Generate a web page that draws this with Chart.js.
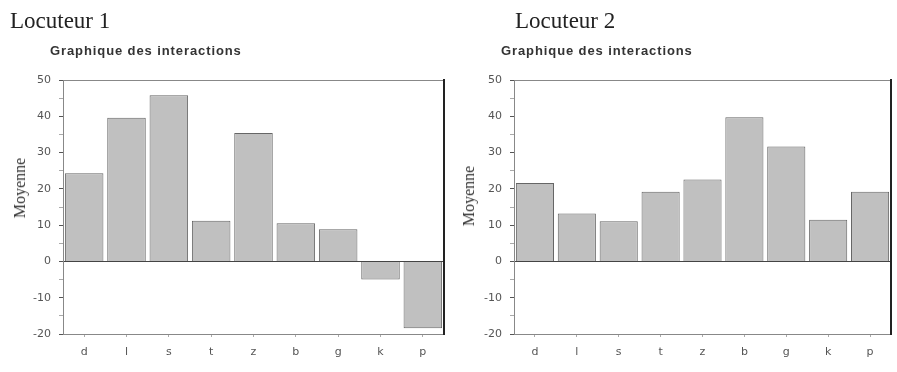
<!DOCTYPE html>
<html>
<head>
<meta charset="utf-8">
<script src="https://cdn.jsdelivr.net/npm/chart.js@4.4.0/dist/chart.umd.min.js"></script>
<style>
	body { margin: 0; background: #fff; }
	.wrap { position: relative; width: 897px; height: 372px; overflow: hidden; }
	.box { position: absolute; top: 0; height: 372px; }
	.titre { position: absolute; font-family: "Liberation Serif", serif; font-size: 23px; color: #222; white-space: nowrap; }
	.sousTitre { position: absolute; font-family: "Liberation Sans", Arial, sans-serif; font-weight: bold; font-size: 13px; letter-spacing: 0.9px; color: #333; white-space: nowrap; }
	.axeY { position: absolute; font-family: "Liberation Serif", serif; font-size: 16px; color: #333; white-space: nowrap; transform: translate(-50%, -50%) rotate(-90deg); }
</style>
</head>
<body>
<div class="wrap">
	<div class="box" style="left:0;width:447px"><canvas id="chart1"></canvas></div>
	<div class="box" style="left:447px;width:450px"><canvas id="chart2"></canvas></div>

	<div class="titre" style="left:10px;top:8px">Locuteur 1</div>
	<div class="sousTitre" style="left:50px;top:43px">Graphique des interactions</div>
	<div class="axeY" style="left:20px;top:188px">Moyenne</div>

	<div class="titre" style="left:515px;top:8px">Locuteur 2</div>
	<div class="sousTitre" style="left:501px;top:43px">Graphique des interactions</div>
	<div class="axeY" style="left:469px;top:196px">Moyenne</div>
</div>
<script>
'use strict'

//catégories
const labels = ['d', 'l', 's', 't', 'z', 'b', 'g', 'k', 'p'];
//moyennes locuteur 1
const locuteur1 = [24.3, 39.6, 45.8, 11.2, 35.4, 10.5, 8.9, -5.0, -18.4];
//moyennes locuteur 2
const locuteur2 = [21.6, 13.2, 11.1, 19.2, 22.6, 39.7, 31.7, 11.5, 19.2];
//graduations
const yMin = -20;
const yMax = 50;
const yStep = 5;

const tickFont = { family: '"DejaVu Sans", sans-serif', size: 11 };

// =====================================================================================================

function makeChart(id, data, axisWidth, padRight){
	return new Chart(document.getElementById(id), {
		type: 'bar',
		data: {
			labels: labels,
			datasets: [{
				data: data,
				backgroundColor: '#c0c0c0',
				borderColor: '#666',
				borderWidth: 1,
				barPercentage: 0.91,
				categoryPercentage: 1
			}]
		},
		options: {
			responsive: false,
			animation: false,
			layout: { padding: { top: 80, right: padRight, left: 0, bottom: 0 } },
			plugins: {
				legend: { display: false },
				tooltip: { enabled: false }
			},
			scales: {
				x: {
					position: 'bottom',
					grid: { display: true, offset: false, drawOnChartArea: false, tickLength: 3, color: '#aaa' },
					border: { color: '#888', width: 1 },
					ticks: { font: tickFont, color: '#555', padding: 9 },
					afterFit: function(scale){ scale.height = 38; }
				},
				xTop: {
					position: 'top',
					grid: { display: false },
					border: { color: '#888', width: 1 },
					ticks: { display: false },
					afterFit: function(scale){ scale.height = 0; }
				},
				y: {
					min: yMin,
					max: yMax,
					grid: {
						drawOnChartArea: true,
						tickLength: 4,
						color: function(ctx){ return ctx.tick && ctx.tick.value === 0 ? '#444' : 'rgba(0,0,0,0)'; },
						tickColor: function(ctx){ return ctx.tick && ctx.tick.value % 10 === 0 ? '#555' : '#aaa'; }
					},
					border: { color: '#888', width: 1 },
					ticks: {
						stepSize: yStep,
						font: tickFont,
						color: '#555',
						padding: 8,
						callback: function(v){ return v % 10 === 0 ? v : ''; }
					},
					afterFit: function(scale){ scale.width = axisWidth; }
				},
				yRight: {
					position: 'right',
					min: yMin,
					max: yMax,
					grid: { display: false },
					border: { color: '#222', width: 2 },
					ticks: { display: false },
					afterFit: function(scale){ scale.width = 3; }
				}
			}
		}
	});
}

const canvas1 = document.getElementById('chart1');
canvas1.width = 447; canvas1.height = 372;
const canvas2 = document.getElementById('chart2');
canvas2.width = 450; canvas2.height = 372;

makeChart('chart1', locuteur1, 63, 0);
makeChart('chart2', locuteur2, 67, 3);
</script>
</body>
</html>
